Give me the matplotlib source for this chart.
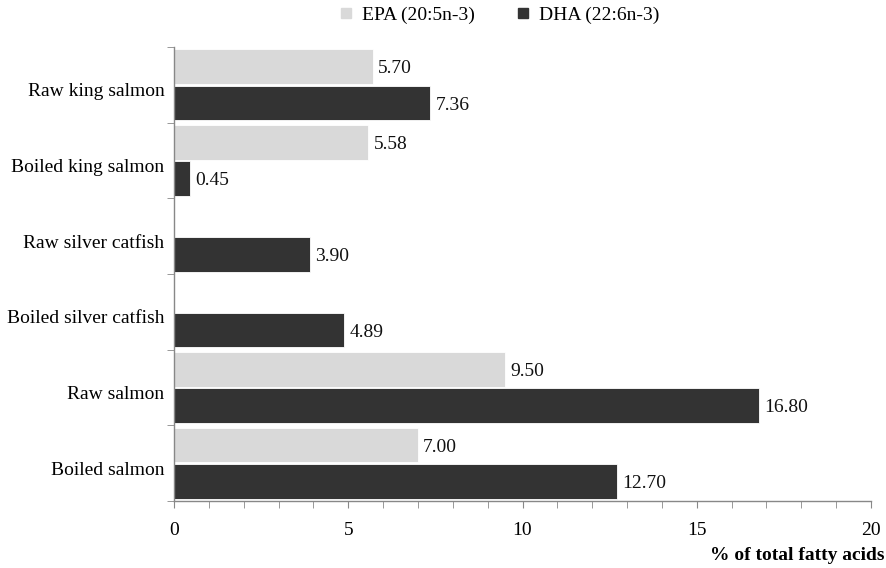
import numpy as np
import matplotlib.pyplot as plt
import matplotlib.transforms as mtransforms
from matplotlib.lines import Line2D

CATEGORIES = [
    "Raw king salmon", "Boiled king salmon", "Raw silver catfish",
    "Boiled silver catfish", "Raw salmon", "Boiled salmon",
]
EPA = [5.70, 5.58, 0.0, 0.0, 9.50, 7.00]
DHA = [7.36, 0.45, 3.90, 4.89, 16.80, 12.70]
SERIES = ["EPA (20:5n-3)", "DHA (22:6n-3)"]
XTICKS = [0, 5, 10, 15, 20]

LIGHT = "#d9d9d9"
DARK = "#333333"
AXIS_GRAY = "#888888"
FS = 14

plt.rcParams["font.family"] = ["Liberation Serif", "DejaVu Serif"]

fig = plt.figure(figsize=(8.86, 5.68), dpi=100)
ax = fig.add_axes([174 / 886, 1 - 501 / 568, (871 - 174) / 886, (501 - 47) / 568])

n = len(CATEGORIES)
centers = np.arange(n)
h = 0.46
ax.barh(centers - 0.24, EPA, height=h, color=LIGHT, edgecolor="white", linewidth=0.6)
ax.barh(centers + 0.24, DHA, height=h, color=DARK, edgecolor="white", linewidth=0.6)

for i in range(n):
    if EPA[i] > 0:
        ax.text(EPA[i] + 0.15, centers[i] - 0.21, f"{EPA[i]:.2f}", va="center", ha="left",
                fontsize=FS, color="#111111")
    ax.text(DHA[i] + 0.15, centers[i] + 0.27, f"{DHA[i]:.2f}", va="center", ha="left",
            fontsize=FS, color="#111111")

ax.set_ylim(n - 0.5, -0.5)
ax.set_xlim(0, 20)

ax.set_yticks(centers)
ax.set_yticklabels(CATEGORIES, fontsize=FS)
ax.set_yticks(np.arange(n + 1) - 0.5, minor=True)
ax.tick_params(axis="y", which="major", length=0, pad=7)
ax.tick_params(axis="y", which="minor", length=5, color=AXIS_GRAY, direction="out")
shift = mtransforms.ScaledTranslation(0, -5 / 100, fig.dpi_scale_trans)
for lbl in ax.get_yticklabels():
    lbl.set_transform(lbl.get_transform() + shift)

ax.set_xticks(XTICKS)
ax.set_xticklabels([str(t) for t in XTICKS], fontsize=FS)
ax.set_xticks(np.arange(0, 21, 1), minor=True)
ax.tick_params(axis="x", which="both", length=5, color=AXIS_GRAY, direction="out", pad=10)

for side in ["top", "right"]:
    ax.spines[side].set_visible(False)
for side in ["left", "bottom"]:
    ax.spines[side].set_color(AXIS_GRAY)
    ax.spines[side].set_linewidth(1.0)

fig.text(884 / 886, 1 - 555 / 568, "% of total fatty acids", ha="right", va="center",
         fontsize=FS, fontweight="bold")

handles = [
    Line2D([], [], marker="s", linestyle="none", markersize=7, color=LIGHT),
    Line2D([], [], marker="s", linestyle="none", markersize=7, color=DARK),
]
fig.legend(handles, SERIES, loc="center", bbox_to_anchor=(498 / 886, 1 - 15 / 568), ncol=2,
           frameon=False, fontsize=FS, handletextpad=0.3, columnspacing=2.0, handlelength=1.0)

fig.savefig("out.png", dpi=100)
